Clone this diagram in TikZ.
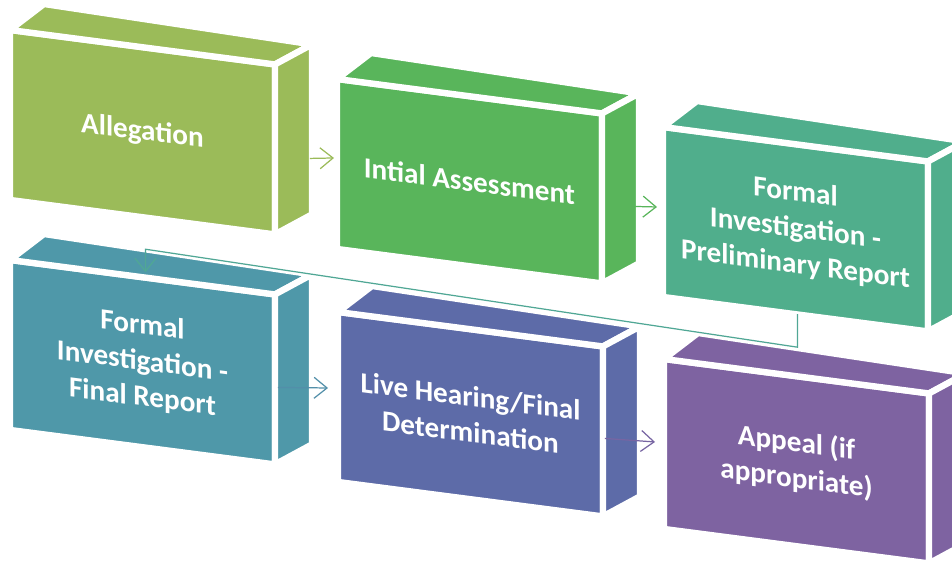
\documentclass[tikz,border=0pt]{standalone}
\usepackage{fontspec}
\setmainfont{Carlito}
\usetikzlibrary{calc,arrows.meta}

\definecolor{olivebox}{HTML}{9BBB59}
\definecolor{greenbox}{HTML}{59B55B}
\definecolor{tealbox}{HTML}{50AE8C}
\definecolor{petrolbox}{HTML}{4F98A9}
\definecolor{bluebox}{HTML}{5D6BA8}
\definecolor{purplebox}{HTML}{7E63A1}

% top and side face of a box, from the corners of its front node
\newcommand{\boxfaces}[2]{%
  \filldraw[face, fill=#2] (#1.north west) -- ($(#1.north west)+(34,-26)$)
    -- ($(#1.north east)+(37,-20)$) -- (#1.north east) -- cycle;
  \filldraw[face, fill=#2] (#1.north east) -- ($(#1.north east)+(37,-20)$)
    -- ($(#1.south east)+(37,-20)$) -- (#1.south east) -- cycle;
}

\begin{document}
\begin{tikzpicture}
        [x=0.02cm, y=-0.02cm,
        front/.style={rectangle, anchor=north west, yslant=-0.13,
          minimum width=5.3cm, minimum height=3.4cm, inner sep=0pt, outer sep=0pt,
          draw=white, line width=3.6pt, text=white, align=center,
          font=\fontsize{16.6}{20.4}\selectfont\bfseries},
        face/.style={draw=white, line width=3.6pt, line join=round},
        link/.style={line width=0.7pt, -{Straight Barb[length=2.6mm, width=4.2mm]}}]

        \useasboundingbox (0,0) rectangle (952,563);

        \node[front, fill=olivebox] (alleg) at (10, 30) {Allegation};
        \node[front, fill=greenbox] (assess) at (337, 79) {Intial Assessment};
        \node[front, fill=tealbox] (prelim) at (663, 127) {Formal\\Investigation -\\Preliminary Report};
        \node[front, fill=petrolbox] (final) at (10, 260) {Formal\\Investigation -\\Final Report};
        \node[front, fill=bluebox] (hear) at (338, 312) {Live Hearing/Final\\Determination};
        \node[front, fill=purplebox] (appeal) at (664, 359) {Appeal (if\\appropriate)};

        \boxfaces{alleg}{olivebox}
        \boxfaces{assess}{greenbox}
        \boxfaces{prelim}{tealbox}
        \boxfaces{final}{petrolbox}
        \boxfaces{hear}{bluebox}
        \boxfaces{appeal}{purplebox}

        % arrows between the steps
        \draw[link, olivebox] ($(alleg.east)+(35,9)$) -- ($(assess.west)+(-3,-6)$);
        \draw[link, greenbox] ($(assess.east)+(31,8)$) -- ($(prelim.west)+(-6,-5)$);
        \draw[link, petrolbox!80!bluebox] ($(final.east)+(3,8)$) -- ($(hear.west)+(-10,-9)$);
        \draw[link, purplebox!80!bluebox] ($(hear.east)+(2,7)$) -- ($(appeal.west)+(-9,-2)$);

        \coordinate (turn) at ($(prelim.south)+(2,33)$);
        \coordinate (drop) at ($(final.north)+(3,-28)$);
        \draw[link, tealbox!70!petrolbox] ($(prelim.south)+(2,0)$) -- (turn) -- (drop) -- ($(final.north)+(3,-5)$);

    \end{tikzpicture}
\end{document}
